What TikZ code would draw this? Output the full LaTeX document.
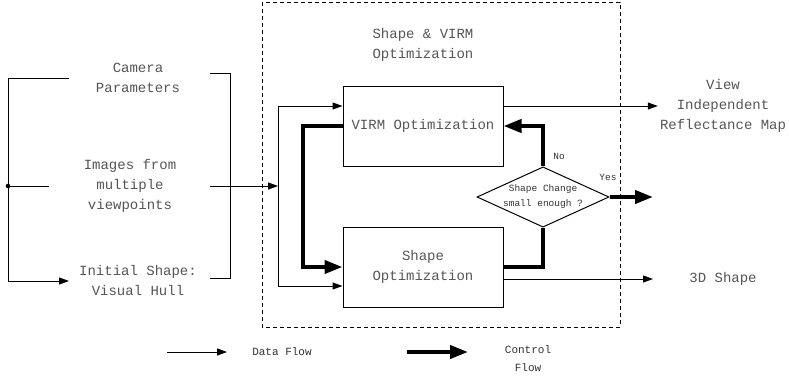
\documentclass[tikz,border=0pt]{standalone}
\usepackage{fontspec}
\setmainfont{Liberation Mono}
\usetikzlibrary{arrows.meta, positioning, shapes.geometric}
\definecolor{TextGray}{HTML}{555555}
\definecolor{SmallGray}{HTML}{333333}

\tikzset{
  box/.style={draw, line width=1pt, minimum width=160pt, minimum height=80pt,
    inner sep=0pt, align=center, text=TextGray, font=\fontsize{14}{20}\selectfont},
  txt/.style={align=center, inner sep=2pt, text=TextGray, font=\fontsize{14}{20}\selectfont},
  small/.style={align=center, inner sep=0pt, text=SmallGray, font=\fontsize{9.5}{15}\selectfont},
  legend/.style={align=center, inner sep=0pt, text=SmallGray, font=\fontsize{11}{18}\selectfont},
  data/.style={-{Triangle[length=10pt,width=7pt]}, line width=1pt},
  ctrl/.style={-{Triangle[length=18pt,width=13pt]}, line width=4pt},
  ctrlline/.style={line width=4pt},
}

\begin{document}
\begin{tikzpicture}[x=1pt, y=-1pt]
  \useasboundingbox (0,0) rectangle (789,375);
  % optimization frame
  \draw[line width=1pt, dash pattern=on 4pt off 3pt] (262,2) rectangle (620,327);
  \node[txt] (title) at (423,45) {Shape \& VIRM\\Optimization};
  \node[box] (virm) at (423,126) {VIRM Optimization};
  \node[box] (shape) at (423,267) {Shape\\Optimization};
  \node[draw, line width=1pt, diamond, aspect=2.19, minimum width=129pt,
    minimum height=59pt, small] (check) at (543,197) {Shape Change\\small enough ?};

  % inputs
  \node[txt] (camera) at (138,78) {Camera\\Parameters};
  \node[txt] (images) at (130,186) {Images from\\multiple\\viewpoints};
  \node[txt] (hull) at (138,280) {Initial Shape:\\Visual Hull};
  \coordinate (split) at (8,186);
  \coordinate (camin) at (69,78);
  \coordinate (imgin) at (49,186);
  \coordinate (hullin) at (69,281);
  \draw[line width=1pt] (camin) -| (split);
  \draw[line width=1pt] (imgin) -- (split);
  \draw[data] (split) |- (hullin);
  \fill (split) circle (2.3pt);
  \draw[line width=1pt] (210,73) -- (230,73) -- (230,278) -- (210,278);
  \coordinate (brk) at (210,186);
  \coordinate (feed) at (278,186);
  \draw[data] (brk) -- (feed);
  \draw[data] (feed) |- ([yshift=20pt]virm.west);
  \draw[data] (feed) |- ([yshift=-19pt]shape.west);

  % outputs
  \node[txt] (vrmap) at (723,106) {View\\Independent\\Reflectance Map};
  \node[txt] (shape3d) at (723,279) {3D Shape};
  \coordinate (outx) at (653,0);
  \draw[data] ([yshift=20pt]virm.east) -- (vrmap.west);
  \draw[data] ([yshift=-12pt]shape.east) -- (shape3d.west -| outx);

  % control loop
  \draw[ctrl] (virm.west) -- ++(-40,0) |- (shape.west);
  \draw[ctrlline] (shape.east) -| (check.south);
  \draw[ctrl] (check.north) |- (virm.east);
  \draw[ctrl] (check.east) -- (check.east -| outx);
  \node[small] (no) at (559,156) {No};
  \node[small] (yes) at (608,177) {Yes};

  % legend
  \coordinate (d0) at (167,352);
  \coordinate (d1) at (227,352);
  \draw[data] (d0) -- (d1);
  \node[legend] (dflow) at (282,352) {Data Flow};
  \coordinate (c0) at (407,352);
  \coordinate (c1) at (468,352);
  \draw[ctrl] (c0) -- (c1);
  \node[legend] (cflow) at (528,359) {Control\\Flow};
\end{tikzpicture}
\end{document}
